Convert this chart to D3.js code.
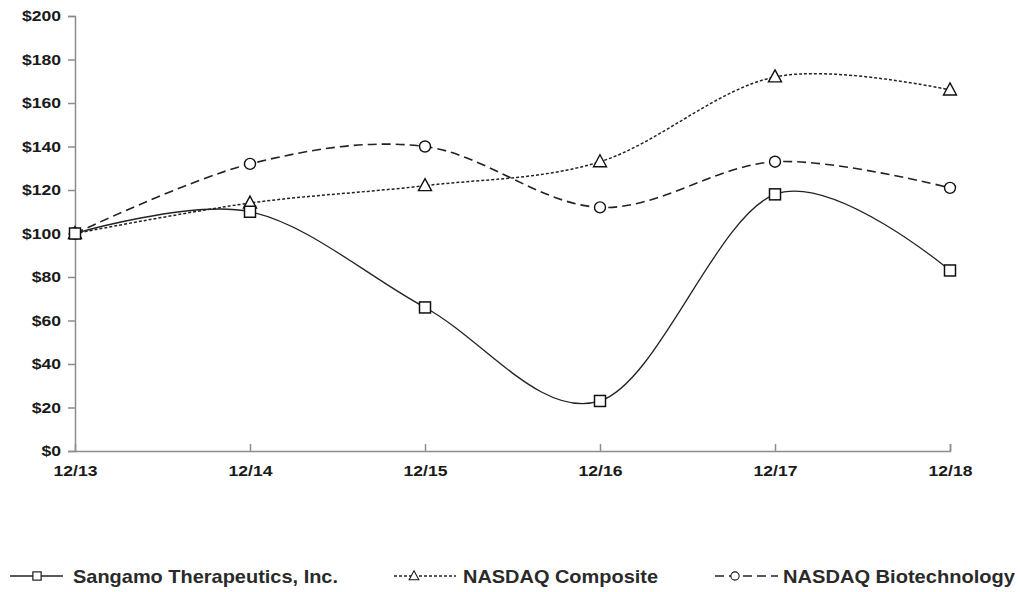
<!DOCTYPE html>
<html>
<head>
<meta charset="utf-8">
<script src="https://cdn.jsdelivr.net/npm/d3@7"></script>
<style>
body { margin: 0; background: #fff; }
svg { display: block; }
</style>
</head>
<body>
<svg id="chart" width="1020" height="592"></svg>
<script>

var periods = ["12/13", "12/14", "12/15", "12/16", "12/17", "12/18"];
var sangamo = [100, 110, 66, 23, 118, 83];
var composite = [100, 114, 122, 133, 172, 166];
var biotech = [100, 132, 140, 112, 133, 121];
var yTicks = [0, 20, 40, 60, 80, 100, 120, 140, 160, 180, 200];

var series = [
	{ name: "Sangamo Therapeutics, Inc.", values: sangamo, dash: null, width: 1.3, marker: "square" },
	{ name: "NASDAQ Composite", values: composite, dash: "3,2", width: 1.5, marker: "triangle" },
	{ name: "NASDAQ Biotechnology", values: biotech, dash: "9,5", width: 1.6, marker: "circle" }
];

var svg = d3.select("#chart");

var x = d3.scalePoint().domain(periods).range([75, 950]);
var y = d3.scaleLinear().domain([0, 200]).range([451, 16]);

// axes
var yAxis = svg.append("g").attr("transform", "translate(75,0)")
	.call(d3.axisLeft(y).tickValues(yTicks).tickSize(7).tickPadding(7)
		.tickFormat(function(d) { return "$" + d; }));

var xAxis = svg.append("g").attr("transform", "translate(0,451)")
	.call(d3.axisBottom(x).tickSize(-7).tickPadding(14));

[yAxis, xAxis].forEach(function(ax) {
	ax.selectAll("path, line").attr("stroke", "#8c8c8c").attr("stroke-width", 1.5);
	ax.selectAll("text").attr("fill", "#1a1a1a").style("font-family", "Liberation Sans, Arial, sans-serif")
		.style("font-size", "15px").style("font-weight", "bold")
		.each(function() {
			// labels in the picture are stretched sideways
			var w = this.getComputedTextLength();
			d3.select(this).attr("textLength", w * 1.17).attr("lengthAdjust", "spacingAndGlyphs");
		});
});
xAxis.select(".tick line").remove(); // first tick overlaps the y axis

var line = d3.line()
	.x(function(d, i) { return x(periods[i]); })
	.y(function(d) { return y(d); })
	.curve(d3.curveCardinal.tension(0));

function drawMarker(g, type, cx, cy) {
	if (type == "square") {
		g.append("rect").attr("x", cx - 5.5).attr("y", cy - 5.5).attr("width", 11).attr("height", 11)
			.attr("fill", "#fff").attr("stroke", "#111").attr("stroke-width", 1.5);
	} else if (type == "triangle") {
		g.append("path").attr("d", "M" + cx + "," + (cy - 7) + "L" + (cx + 6.5) + "," + (cy + 5) + "L" + (cx - 6.5) + "," + (cy + 5) + "Z")
			.attr("fill", "#fff").attr("stroke", "#111").attr("stroke-width", 1.4);
	} else {
		g.append("circle").attr("cx", cx).attr("cy", cy).attr("r", 5.5)
			.attr("fill", "#fff").attr("stroke", "#111").attr("stroke-width", 1.4);
	}
}

// draw lines in reverse so Sangamo sits on top
series.slice().reverse().forEach(function(s) {
	var g = svg.append("g");
	g.append("path").attr("d", line(s.values))
		.attr("fill", "none").attr("stroke", "#222").attr("stroke-width", s.width)
		.attr("stroke-dasharray", s.dash);
	s.values.forEach(function(v, i) {
		drawMarker(g, s.marker, x(periods[i]), y(v));
	});
});

// legend
var legendPos = [
	{ x1: 10, x2: 63, mx: 37, tx: 73, tw: 265 },
	{ x1: 394, x2: 456, mx: 414, tx: 463, tw: 195 },
	{ x1: 715, x2: 778, mx: 735, tx: 783, tw: 232 }
];

series.forEach(function(s, i) {
	var p = legendPos[i];
	var g = svg.append("g");
	g.append("line").attr("x1", p.x1).attr("x2", p.x2).attr("y1", 576).attr("y2", 576)
		.attr("stroke", "#222").attr("stroke-width", 1.4).attr("stroke-dasharray", s.dash);
	var sm = svg.append("g").attr("transform", "translate(" + p.mx + ",576) scale(0.75) translate(" + (-p.mx) + ",-576)");
	drawMarker(sm, s.marker, p.mx, 576);
	g.append("text").attr("x", p.tx).attr("y", 583)
		.attr("textLength", p.tw).attr("lengthAdjust", "spacingAndGlyphs")
		.style("font-family", "Liberation Sans Narrow, Liberation Sans, Arial, sans-serif")
		.style("font-size", "19px").style("font-weight", "bold").attr("fill", "#2a2a2a")
		.text(s.name);
});

</script>
</body>
</html>
